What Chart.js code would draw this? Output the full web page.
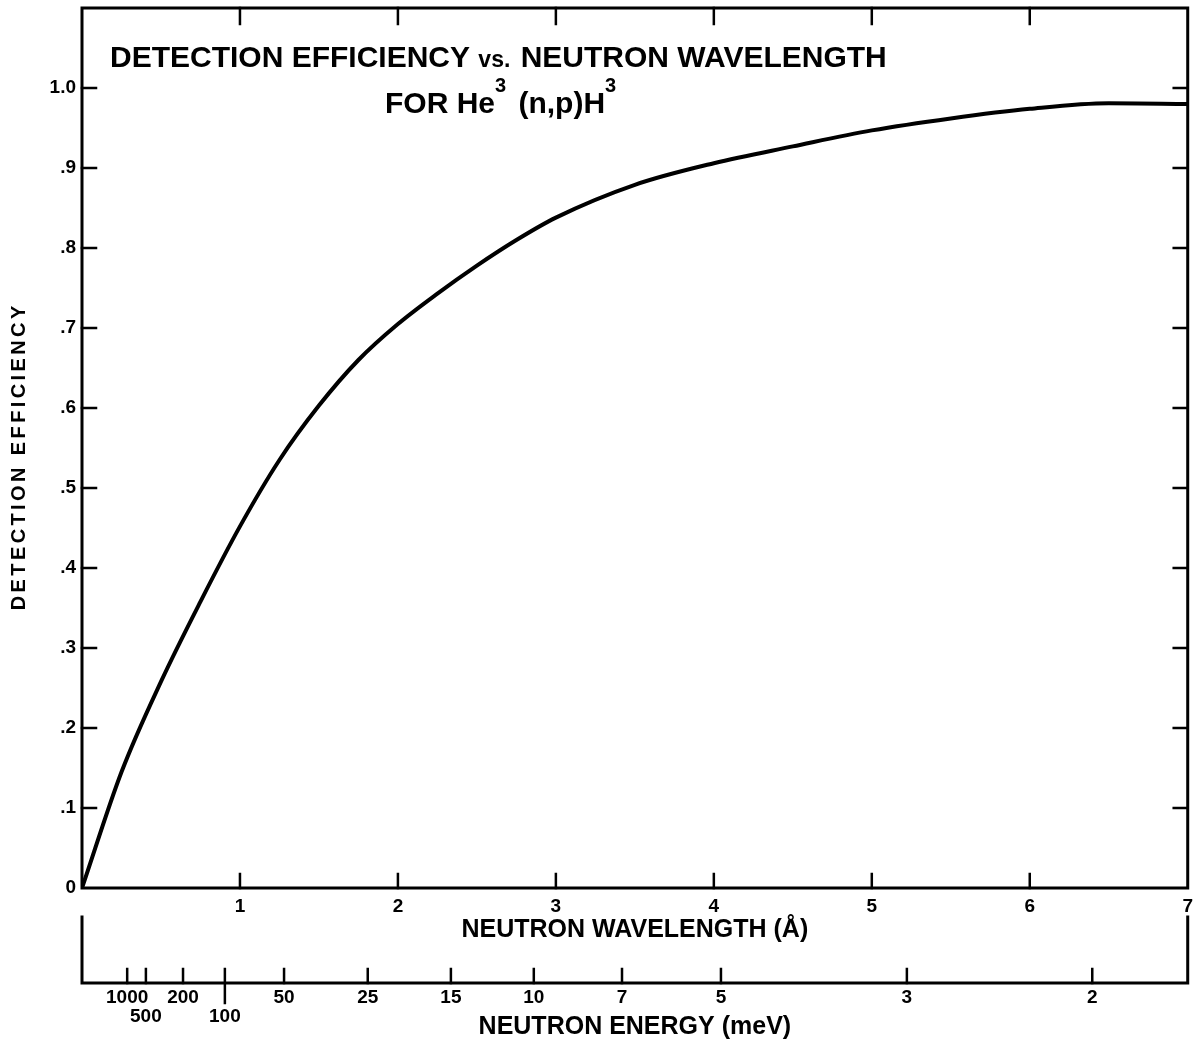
<!DOCTYPE html>
<html>
<head>
<meta charset="utf-8">
<script src="https://cdn.jsdelivr.net/npm/chart.js@4.4.1/dist/chart.umd.min.js"></script>
<style>
  body { margin: 0; background: #fff; }
  #wrap { width: 1200px; height: 1046px; }
</style>
</head>
<body>
<div id="wrap"><canvas id="grafico"></canvas></div>
<script>
// curve: wavelength (Å) -> detection efficiency
const wavelength = [0, 0.25, 0.5, 0.75, 1.0, 1.25, 1.5, 1.75, 2.0, 2.25, 2.5, 2.75, 3.0, 3.5, 4.0, 4.5, 5.0, 5.5, 6.0, 6.5, 7.0];
const efficiency = [0, 0.145, 0.258, 0.358, 0.452, 0.535, 0.603, 0.66, 0.705, 0.743, 0.778, 0.81, 0.838, 0.879, 0.906, 0.927, 0.947, 0.962, 0.974, 0.981, 0.98];

const yTicks = [0, 0.1, 0.2, 0.3, 0.4, 0.5, 0.6, 0.7, 0.8, 0.9, 1.0];
const xTicks = [1, 2, 3, 4, 5, 6, 7];
const energyTicks = [1000, 500, 200, 100, 50, 25, 15, 10, 7, 5, 3, 2];
const energyLowRow = [500, 100];

// E(meV) = 81.81 / lambda^2
const E_LAMBDA2 = 81.81;

const FONT = '"Liberation Sans", Arial, sans-serif';
const TICK = 14;

function lambdaOf(e) {
  return Math.sqrt(E_LAMBDA2 / e);
}

const framePlugin = {
  id: "frame",
  afterDraw(chart) {
    const ctx = chart.ctx;
    const area = chart.chartArea;
    const sx = chart.scales.x;
    const sy = chart.scales.y;
    const se = chart.scales.x2;

    ctx.save();
    ctx.strokeStyle = "#000";
    ctx.lineWidth = 3;
    ctx.lineCap = "square";
    ctx.strokeRect(area.left, area.top, area.right - area.left, area.bottom - area.top);

    ctx.lineWidth = 2.5;
    ctx.beginPath();
    yTicks.forEach((v) => {
      if (v === 0) return;
      const py = sy.getPixelForValue(v);
      ctx.moveTo(area.left, py);
      ctx.lineTo(area.left + TICK, py);
      ctx.moveTo(area.right, py);
      ctx.lineTo(area.right - TICK, py);
    });
    xTicks.forEach((v) => {
      if (v === 7) return;
      const px = sx.getPixelForValue(v);
      ctx.moveTo(px, area.bottom);
      ctx.lineTo(px, area.bottom - TICK);
      ctx.moveTo(px, area.top);
      ctx.lineTo(px, area.top + TICK + 2);
    });
    ctx.stroke();

    // energy scale
    const base = se.top;
    ctx.lineWidth = 3;
    ctx.beginPath();
    ctx.moveTo(se.left, base - 66);
    ctx.lineTo(se.left, base);
    ctx.lineTo(se.right, base);
    ctx.lineTo(se.right, base - 66);
    ctx.stroke();
    ctx.lineWidth = 2.5;
    ctx.beginPath();
    energyTicks.forEach((e) => {
      const px = se.getPixelForValue(lambdaOf(e));
      ctx.moveTo(px, base);
      ctx.lineTo(px, base - TICK);
      if (e === 100) {
        ctx.moveTo(px, base);
        ctx.lineTo(px, base + 20);
      }
    });
    ctx.stroke();

    // title inside the frame
    ctx.fillStyle = "#000";
    ctx.textBaseline = "alphabetic";
    ctx.textAlign = "left";
    let x = 110;
    const put = (txt, size, px, py) => {
      ctx.font = "bold " + size + "px " + FONT;
      ctx.fillText(txt, px, py);
      return px + ctx.measureText(txt).width;
    };
    x = put("DETECTION EFFICIENCY ", 30, x, 67);
    x = put("vs.", 23, x, 67);
    put(" NEUTRON WAVELENGTH", 30, x + 2, 67);

    x = put("FOR He", 30, 385, 113);
    x = put("3", 20, x, 92);
    x = put(" (n,p)H", 30, x + 4, 113);
    put("3", 20, x, 92);

    // y axis title, letter spaced
    const yTitle = "DETECTION EFFICIENCY";
    ctx.font = "bold 20px " + FONT;
    const spacing = 3.4;
    let total = 0;
    for (const ch of yTitle) total += ctx.measureText(ch).width + spacing;
    total -= spacing;
    ctx.translate(19, 458);
    ctx.rotate(-Math.PI / 2);
    ctx.textBaseline = "middle";
    let cx = -total / 2;
    for (const ch of yTitle) {
      ctx.fillText(ch, cx, 0);
      cx += ctx.measureText(ch).width + spacing;
    }
    ctx.restore();
  },
};

const ctx = document.getElementById("grafico");

new Chart(ctx, {
  type: "line",
  data: {
    datasets: [
      {
        label: "Detection efficiency",
        data: wavelength.map((w, i) => ({ x: w, y: efficiency[i] })),
        borderColor: "#000",
        borderWidth: 4,
        pointRadius: 0,
        fill: false,
        tension: 0.4,
        cubicInterpolationMode: "monotone",
      },
    ],
  },
  options: {
    responsive: true,
    maintainAspectRatio: false,
    animation: false,
    layout: { padding: { top: 8, right: 12, bottom: 0, left: 0 } },
    plugins: {
      legend: { display: false },
      tooltip: { enabled: false },
    },
    scales: {
      x: {
        type: "linear",
        position: "bottom",
        weight: 0,
        min: 0,
        max: 7,
        grid: { display: false, drawTicks: false },
        border: { display: false },
        afterBuildTicks: (scale) => {
          scale.ticks = xTicks.map((v) => ({ value: v }));
        },
        afterFit: (scale) => {
          scale.height = 95;
        },
        ticks: {
          autoSkip: false,
          maxRotation: 0,
          padding: 7,
          color: "#000",
          font: { family: FONT, size: 19, weight: "bold" },
        },
        title: {
          display: true,
          text: "NEUTRON WAVELENGTH (Å)",
          color: "#000",
          font: { family: FONT, size: 25, weight: "bold" },
          padding: { top: 0, bottom: 38 },
        },
      },
      x2: {
        type: "linear",
        position: "bottom",
        weight: 1,
        min: 0,
        max: 7,
        grid: { display: false, drawTicks: false },
        border: { display: false },
        afterBuildTicks: (scale) => {
          scale.ticks = energyTicks.map((e) => ({ value: lambdaOf(e) }));
        },
        afterFit: (scale) => {
          scale.height = 63;
        },
        ticks: {
          autoSkip: false,
          maxRotation: 0,
          padding: 5,
          color: "#000",
          font: { family: FONT, size: 19, weight: "bold", lineHeight: 1.0 },
          callback: (value, index) => {
            const e = energyTicks[index];
            return energyLowRow.includes(e) ? ["", String(e)] : String(e);
          },
        },
        title: {
          display: true,
          text: "NEUTRON ENERGY (meV)",
          color: "#000",
          font: { family: FONT, size: 25, weight: "bold" },
          padding: { top: 0, bottom: 4 },
        },
      },
      y: {
        type: "linear",
        min: 0,
        max: 1.1,
        grid: { display: false, drawTicks: false },
        border: { display: false },
        afterBuildTicks: (scale) => {
          scale.ticks = yTicks.map((v) => ({ value: v }));
        },
        afterFit: (scale) => {
          scale.width = 82;
          scale.paddingTop = 0;
          scale.paddingBottom = 0;
        },
        ticks: {
          padding: 6,
          color: "#000",
          font: { family: FONT, size: 19, weight: "bold" },
          callback: (value) => {
            if (value === 0) return "0";
            if (Math.abs(value - 1) < 1e-9) return "1.0";
            return "." + Math.round(value * 10);
          },
        },
      },
    },
  },
  plugins: [framePlugin],
});
</script>
</body>
</html>
